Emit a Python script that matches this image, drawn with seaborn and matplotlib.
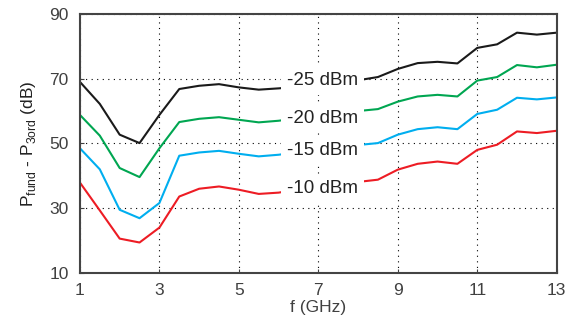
import numpy as np
import pandas as pd
import matplotlib
matplotlib.use("Agg")
import matplotlib.pyplot as plt
import seaborn as sns

freq = [1, 1.5, 2, 2.5, 3, 3.5, 4, 4.5, 5, 5.5, 6, 6.5, 7, 7.5, 8,
        8.5, 9, 9.5, 10, 10.5, 11, 11.5, 12, 12.5, 13]
p_m25 = [69.0, 62.2, 52.7, 50.1, 58.8, 66.8, 67.8, 68.3, 67.3, 66.6, 67.0, 67.5, 68.0,
         68.7, 69.5, 70.5, 73.0, 74.8, 75.2, 74.7, 79.5, 80.6, 84.2, 83.6, 84.2]
p_m20 = [58.8, 52.4, 42.4, 39.6, 48.5, 56.6, 57.6, 58.1, 57.3, 56.5, 57.0, 57.8, 58.6,
         59.3, 60.0, 60.6, 62.9, 64.5, 65.0, 64.5, 69.4, 70.5, 74.2, 73.5, 74.3]
p_m15 = [48.5, 42.0, 29.5, 26.9, 31.6, 46.2, 47.2, 47.7, 46.8, 46.0, 46.5, 47.3, 48.1,
         48.9, 49.5, 50.1, 52.7, 54.4, 55.0, 54.4, 59.1, 60.4, 64.1, 63.6, 64.2]
p_m10 = [37.9, 29.3, 20.6, 19.4, 24.0, 33.6, 36.0, 36.7, 35.7, 34.4, 34.8, 35.8, 36.7,
         37.5, 38.1, 38.8, 41.9, 43.7, 44.4, 43.7, 48.0, 49.6, 53.7, 53.2, 53.9]
labels = ["-25 dBm", "-20 dBm", "-15 dBm", "-10 dBm"]
label_y = [69.4, 57.8, 47.8, 36.0]
colors = ["#1a1a1a", "#00a651", "#00aeef", "#ed1c24"]

df = pd.concat([
    pd.DataFrame({"f": freq, "p": vals, "power": lab})
    for vals, lab in zip([p_m25, p_m20, p_m15, p_m10], labels)
])

sns.set_style("white")
plt.rcParams["font.family"] = ["Liberation Sans", "DejaVu Sans"]
plt.rcParams["mathtext.fontset"] = "custom"
plt.rcParams["mathtext.rm"] = "Liberation Sans"

fig = plt.figure(figsize=(5.71, 3.23), dpi=100)
ax = fig.add_axes([0.140, 0.155, 0.835, 0.802])

sns.lineplot(data=df, x="f", y="p", hue="power", palette=colors,
             linewidth=1.5, legend=False, ax=ax)

for lab, y in zip(labels, label_y):
    ax.text(7.1, y, lab, ha="center", va="center", fontsize=13.5, color="#222222",
            zorder=5, bbox=dict(facecolor="white", edgecolor="none", pad=4.5))

ax.set_xlim(1, 13)
ax.set_ylim(10, 90)
ax.set_xticks(range(1, 14, 2))
ax.set_yticks(range(10, 91, 20))
ax.grid(True, linestyle=(0, (1, 4)), color="black", linewidth=0.8)
ax.tick_params(direction="in", length=3, labelsize=12.5, colors="#404040",
               top=False, right=False, left=True, bottom=True)
ax.tick_params(axis="x", pad=7)
ax.tick_params(axis="y", pad=8)
for s in ax.spines.values():
    s.set_color("#444444")
    s.set_linewidth(1.5)

ax.set_xlabel("f (GHz)", fontsize=12.5, color="#404040", labelpad=2)
ax.set_ylabel(r"P$_{\mathregular{fund}}$ - P$_{\mathregular{3ord}}$ (dB)",
              fontsize=12.5, color="#222222", labelpad=8)

fig.savefig("out.png", dpi=100)
